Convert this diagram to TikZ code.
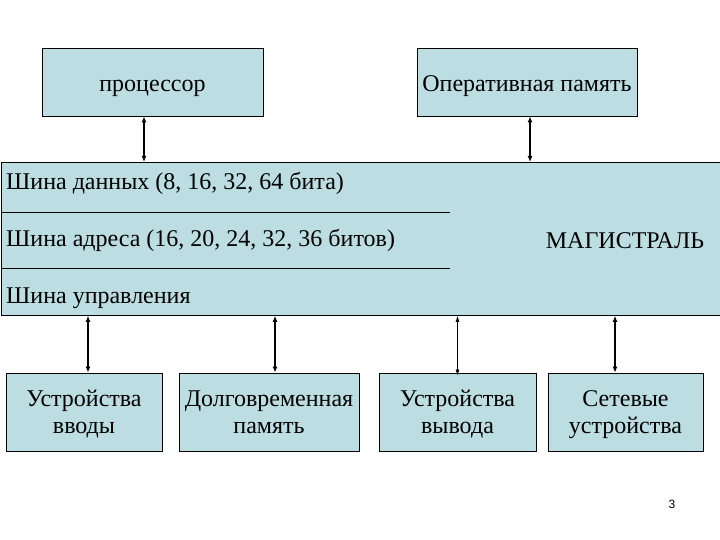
\documentclass[tikz,border=0pt]{standalone}
\usepackage{fontspec}
\setmainfont{Liberation Serif}
\newfontfamily\pagefont{Liberation Sans}
\usetikzlibrary{arrows.meta}
\definecolor{boxfill}{RGB}{188,222,227}

\tikzset{
  unit/.style={draw, fill=boxfill, line width=.8pt, inner sep=0pt,
    align=center, font=\fontsize{24}{27}\selectfont},
  topunit/.style={unit, minimum height=68pt, text height=20pt, text depth=0pt},
  lowunit/.style={unit, minimum height=78pt, text height=45pt, text depth=3pt},
  link/.style={{Latex[length=6pt,width=5pt]}-{Latex[length=6pt,width=5pt]}, line width=1.4pt},
  thinlink/.style={{Latex[length=6pt,width=4pt]}-{Latex[length=6pt,width=4pt]}, line width=.7pt},
  bustext/.style={anchor=base west, inner sep=0pt, font=\fontsize{24}{28}\selectfont}
}

\begin{document}
\begin{tikzpicture}[x=1pt,y=-1pt]
  \useasboundingbox (0,0) rectangle (720,540);
  % top units
  \node[topunit, minimum width=221pt] (cpu) at (152.5,82) {процессор};
  \node[topunit, minimum width=220pt] (ram) at (527,82) {Оперативная память};
  % bus
  \node[draw, fill=boxfill, line width=.8pt, minimum width=719pt, minimum height=153pt,
        anchor=north west, inner sep=0pt] (bus) at (1,162) {};
  \draw[line width=.8pt] (bus.west |- 0,212) -- (450,212);
  \draw[line width=.8pt] (bus.west |- 0,268) -- (450,268);
  \node[bustext] (data) at (6,190) {Шина данных (8, 16, 32, 64 бита)};
  \node[bustext] (addr) at (6,247) {Шина адреса (16, 20, 24, 32, 36 битов)};
  \node[bustext] (ctrl) at (6,303) {Шина управления};
  \node[font=\fontsize{24}{28}\selectfont, inner sep=0pt, anchor=base] (magistral) at (625,248) {МАГИСТРАЛЬ};
  % bottom units
  \node[lowunit, minimum width=156pt] (input) at (84,412) {Устройства\\вводы};
  \node[lowunit, minimum width=180pt] (disk) at (269,412) {Долговременная\\память};
  \node[lowunit, minimum width=157pt] (output) at (457.5,412) {Устройства\\вывода};
  \node[lowunit, minimum width=155pt] (net) at (625.5,412) {Сетевые\\устройства};
  % connectors
  \draw[link] ([xshift=-8.5pt]cpu.south) -- ([xshift=-8.5pt]cpu.south |- bus.north);
  \draw[link] ([xshift=3pt]ram.south) -- ([xshift=3pt]ram.south |- bus.north);
  \draw[link] ([xshift=4pt]input.north |- bus.south) -- ([xshift=4pt]input.north);
  \draw[link] ([xshift=6pt]disk.north |- bus.south) -- ([xshift=6pt]disk.north);
  \draw[thinlink] (output.north |- bus.south) -- ([yshift=-3pt]output.north);
  \draw[link] ([xshift=-10.5pt]net.north |- bus.south) -- ([xshift=-10.5pt]net.north);
  % page number
  \node[font=\pagefont\fontsize{12}{14}\selectfont] (pagenum) at (672,504) {3};
\end{tikzpicture}
\end{document}
